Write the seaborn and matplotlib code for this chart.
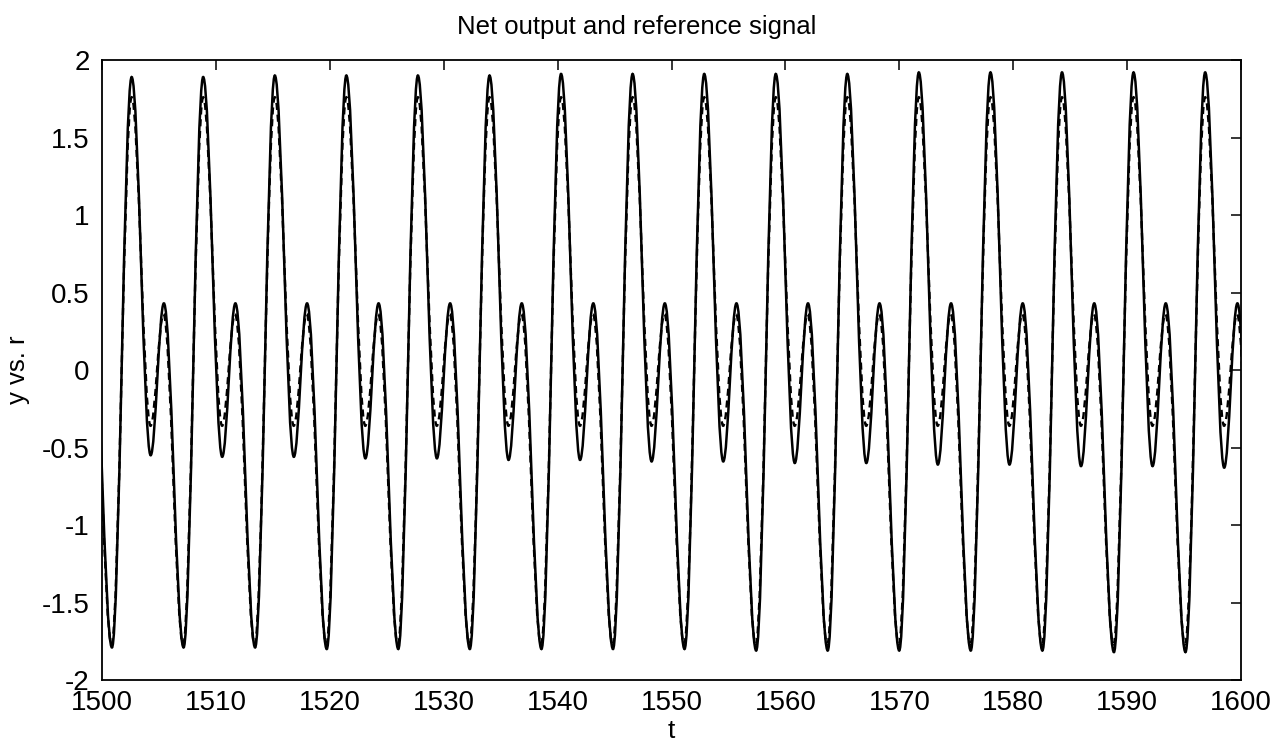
import matplotlib
matplotlib.use("Agg")
import matplotlib.pyplot as plt
from matplotlib.path import Path
from matplotlib.patches import PathPatch
import seaborn as sns

# Turning points (time, value) of the net output y (solid line)
t_out = [1499.14, 1500.87,
         1502.60, 1504.27, 1505.43, 1507.16,
         1508.88, 1510.55, 1511.71, 1513.44,
         1515.17, 1516.84, 1518.00, 1519.73,
         1521.45, 1523.12, 1524.28, 1526.01,
         1527.73, 1529.40, 1530.56, 1532.29,
         1534.02, 1535.69, 1536.85, 1538.58,
         1540.30, 1541.97, 1543.13, 1544.86,
         1546.58, 1548.25, 1549.41, 1551.14,
         1552.87, 1554.54, 1555.70, 1557.43,
         1559.15, 1560.82, 1561.98, 1563.71,
         1565.43, 1567.10, 1568.26, 1569.99,
         1571.71, 1573.38, 1574.54, 1576.27,
         1578.00, 1579.67, 1580.83, 1582.56,
         1584.28, 1585.95, 1587.11, 1588.84,
         1590.56, 1592.23, 1593.39, 1595.12,
         1596.85, 1598.52, 1599.68, 1601.41]
y_out = [0.43, -1.79,
         1.89, -0.55, 0.43, -1.79,
         1.89, -0.56, 0.43, -1.79,
         1.90, -0.56, 0.43, -1.80,
         1.90, -0.57, 0.43, -1.80,
         1.90, -0.57, 0.43, -1.80,
         1.90, -0.58, 0.43, -1.80,
         1.91, -0.58, 0.43, -1.80,
         1.91, -0.59, 0.43, -1.80,
         1.91, -0.59, 0.43, -1.81,
         1.91, -0.60, 0.43, -1.81,
         1.91, -0.60, 0.43, -1.81,
         1.92, -0.61, 0.43, -1.81,
         1.92, -0.61, 0.43, -1.81,
         1.92, -0.62, 0.43, -1.82,
         1.92, -0.62, 0.43, -1.82,
         1.92, -0.63, 0.43, -1.82]

# Turning points (time, value) of the reference signal r (dashed line)
t_ref = [1499.11, 1500.84,
         1502.60, 1504.26, 1505.40, 1507.12,
         1508.88, 1510.54, 1511.68, 1513.40,
         1515.17, 1516.83, 1517.97, 1519.69,
         1521.45, 1523.11, 1524.25, 1525.97,
         1527.73, 1529.39, 1530.53, 1532.25,
         1534.02, 1535.68, 1536.82, 1538.54,
         1540.30, 1541.96, 1543.10, 1544.82,
         1546.58, 1548.24, 1549.38, 1551.10,
         1552.87, 1554.53, 1555.67, 1557.39,
         1559.15, 1560.81, 1561.95, 1563.67,
         1565.43, 1567.09, 1568.23, 1569.95,
         1571.71, 1573.37, 1574.51, 1576.23,
         1578.00, 1579.66, 1580.80, 1582.52,
         1584.28, 1585.94, 1587.08, 1588.80,
         1590.56, 1592.22, 1593.36, 1595.08,
         1596.85, 1598.51, 1599.65, 1601.37]
r_ref = [0.36, -1.77,
         1.76, -0.36, 0.36, -1.77,
         1.76, -0.36, 0.36, -1.77,
         1.76, -0.36, 0.36, -1.77,
         1.76, -0.36, 0.36, -1.77,
         1.76, -0.36, 0.36, -1.77,
         1.76, -0.36, 0.36, -1.77,
         1.76, -0.36, 0.36, -1.77,
         1.76, -0.36, 0.36, -1.77,
         1.76, -0.36, 0.36, -1.77,
         1.76, -0.36, 0.36, -1.77,
         1.76, -0.36, 0.36, -1.77,
         1.76, -0.36, 0.36, -1.77,
         1.76, -0.36, 0.36, -1.77,
         1.76, -0.36, 0.36, -1.77,
         1.76, -0.36, 0.36, -1.77,
         1.76, -0.36, 0.36, -1.77]

x_ticks = [1500, 1510, 1520, 1530, 1540, 1550, 1560, 1570, 1580, 1590, 1600]
x_tick_labels = ["1500", "1510", "1520", "1530", "1540", "1550",
                 "1560", "1570", "1580", "1590", "1600"]
y_ticks = [-2, -1.5, -1, -0.5, 0, 0.5, 1, 1.5, 2]
y_tick_labels = ["-2", "-1.5", "-1", "-0.5", "0", "0.5", "1", "1.5", "2"]

sns.set_theme(style="white")
plt.rcParams["font.family"] = ["Liberation Sans", "DejaVu Sans"]
plt.rcParams["axes.edgecolor"] = "black"
plt.rcParams["axes.linewidth"] = 1.3


def wave_path(t, v, handle=0.364):
    """Smooth curve through turning points: one cubic Bezier per segment,
    with horizontal tangents at every extremum."""
    verts = [(t[0], v[0])]
    codes = [Path.MOVETO]
    for i in range(len(t) - 1):
        dt = t[i + 1] - t[i]
        verts += [(t[i] + handle * dt, v[i]),
                  (t[i + 1] - handle * dt, v[i + 1]),
                  (t[i + 1], v[i + 1])]
        codes += [Path.CURVE4] * 3
    return Path(verts, codes)


fig = plt.figure(figsize=(12.85, 7.5), dpi=100)
ax = fig.add_axes([0.0794, 0.0933, 0.8864, 0.8267])
ax.set_facecolor("white")

ax.add_patch(PathPatch(wave_path(t_ref, r_ref), facecolor="none",
                       edgecolor="black", linewidth=1.7,
                       linestyle=(0, (3.0, 2.0))))
ax.add_patch(PathPatch(wave_path(t_out, y_out), facecolor="none",
                       edgecolor="black", linewidth=1.8))

ax.set_xlim(1500, 1600)
ax.set_ylim(-2, 2)
ax.set_xticks(x_ticks)
ax.set_xticklabels(x_tick_labels)
ax.set_yticks(y_ticks)
ax.set_yticklabels(y_tick_labels)

ax.tick_params(axis="both", which="major", direction="in", length=7,
               width=1.1, color="black", labelsize=20, labelcolor="black",
               top=True, right=True)
ax.tick_params(axis="x", pad=7)
ax.tick_params(axis="y", pad=9)
for side in ax.spines.values():
    side.set_visible(True)
    side.set_color("black")
    side.set_linewidth(1.3)

ax.set_title("Net output and reference signal", fontsize=18.5,
             color="black", x=0.469, pad=19)
ax.set_xlabel("t", fontsize=19, color="black", labelpad=2)
ax.set_ylabel("y vs. r", fontsize=18.5, color="black")
ax.yaxis.set_label_coords(-0.063, 0.5)

fig.savefig("out.png", dpi=100, facecolor="white")
